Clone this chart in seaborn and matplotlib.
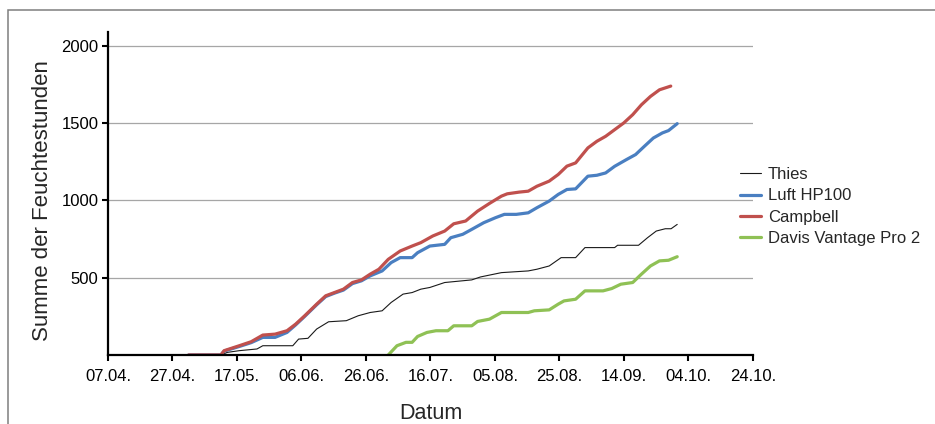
import numpy as np
import pandas as pd
import matplotlib
matplotlib.use("Agg")
import matplotlib.pyplot as plt
import matplotlib.dates as mdates
from matplotlib.patches import Rectangle
import seaborn as sns

# ---- data (days after 07.04., cumulative hours) ----
start_date = "2011-04-07"
tick_labels_dates = pd.date_range(start_date, periods=11, freq="20D")

thies_day = [35, 37, 40.7, 46.2, 48, 57.3, 59.1, 62, 64.7, 68.4,
             73.9, 77.6, 81.3, 85, 87.8, 91.5, 94.3, 97, 99.8, 104.4,
             112.8, 115.5, 122, 130.3, 133, 136.8, 140.5, 145, 147.9, 157.1,
             158, 164.5, 167.3, 170, 172.8, 174.6, 176.5]
thies_val = [0, 17, 28, 39, 60, 60, 103, 108, 168, 215,
             222, 254, 275, 286, 340, 394, 404, 426, 437, 469,
             486, 505, 533, 544, 555, 576, 630, 630, 695, 695,
             710, 710, 759, 802, 817, 817, 845]

luft_day = [25, 35, 36, 40.7, 44.4, 48, 51.8, 55.5, 58.2, 61,
            64.7, 67.5, 70.2, 73, 75.8, 78.6, 81.3, 85, 87.8, 90.6,
            94.3, 96, 99.8, 104.4, 106.3, 110, 112.8, 116.5, 120.1, 122.9,
            126.6, 130.3, 133, 136.8, 139.6, 142.3, 145, 148.8, 151.6, 154.3,
            157.1, 160.8, 163.6, 166.3, 169.1, 171.9, 173.8, 176.5]
luft_val = [0, 0, 25, 55, 80, 114, 114, 146, 195, 250,
            325, 378, 400, 420, 462, 480, 512, 544, 598, 630,
            630, 662, 705, 716, 759, 781, 813, 856, 888, 910,
            910, 920, 953, 996, 1039, 1071, 1075, 1157, 1163, 1178,
            1221, 1265, 1297, 1350, 1404, 1437, 1452, 1497]

campbell_day = [25, 35, 36, 40.7, 44.4, 48, 51.8, 55.5, 58.2, 61,
                64.7, 67.5, 70.2, 73, 75.8, 78.6, 81.3, 84, 86.9, 90.6,
                94.3, 97, 100.7, 104.4, 107.2, 110.9, 114.6, 118.3, 122, 123.8,
                127.5, 130.3, 133, 136.8, 139.6, 142.3, 145, 148.8, 151.6, 154.3,
                157.1, 159.9, 162.7, 165.4, 168.2, 171, 174.5]
campbell_val = [0, 0, 28, 60, 86, 129, 135, 157, 200, 254,
                329, 383, 404, 426, 469, 486, 523, 555, 619, 673,
                705, 727, 770, 802, 849, 867, 931, 981, 1028, 1043,
                1054, 1060, 1092, 1125, 1168, 1222, 1243, 1340, 1383, 1415,
                1458, 1501, 1555, 1619, 1673, 1716, 1740]

davis_day = [86.9, 89.6, 92.4, 94.3, 96, 98.9, 101.7, 105.4, 107.2, 112.8,
             114.6, 118.3, 122, 130.3, 132.2, 136.8, 139.6, 141.4, 145, 147.9,
             153.5, 156.2, 159, 162.7, 165.4, 168.2, 171, 173.8, 176.5]
davis_val = [0, 60, 82, 82, 120, 146, 157, 157, 189, 189,
             217, 232, 275, 275, 286, 292, 329, 350, 361, 415,
             415, 430, 458, 469, 523, 576, 609, 613, 636]

series_names = ["Thies", "Luft HP100", "Campbell", "Davis Vantage Pro 2"]
series_days = [thies_day, luft_day, campbell_day, davis_day]
series_vals = [thies_val, luft_val, campbell_val, davis_val]
colors = ["#1a1a1a", "#4a7fc1", "#c0504d", "#8fc155"]
widths = [0.8, 2.3, 2.3, 2.3]

# ---- figure ----
sns.set_theme(style="white")
plt.rcParams["font.family"] = ["Liberation Sans", "DejaVu Sans"]

W, H = 935, 424
fig = plt.figure(figsize=(W / 100, H / 100), dpi=100)
fig.patch.set_facecolor("white")
ax = fig.add_axes([108 / W, (H - 355) / H, 645 / W, 323 / H])

t0 = pd.Timestamp(start_date)
for name, d, v, c, lw in zip(series_names, series_days, series_vals, colors, widths):
    df = pd.DataFrame({"Datum": t0 + pd.to_timedelta(d, unit="D"), "Wert": v})
    sns.lineplot(data=df, x="Datum", y="Wert", ax=ax, color=c, lw=lw,
                 label=name, estimator=None, sort=False, legend=False)

ax.set_xlim(tick_labels_dates[0], tick_labels_dates[-1])
ax.set_ylim(0, 2090)
ax.set_xticks(tick_labels_dates)
ax.xaxis.set_major_formatter(mdates.DateFormatter("%d.%m."))
ax.set_yticks([500, 1000, 1500, 2000])

ax.grid(axis="y", color="#a6a6a6", lw=0.9)
ax.grid(axis="x", visible=False)
ax.set_axisbelow(True)
for s in ["top", "right"]:
    ax.spines[s].set_visible(False)
for s in ["left", "bottom"]:
    ax.spines[s].set_color("black")
    ax.spines[s].set_linewidth(1.6)
ax.tick_params(axis="both", direction="out", length=4, width=1.5,
               colors="black", labelsize=12, left=True, bottom=True)
ax.tick_params(axis="x", pad=6)
ax.tick_params(axis="y", pad=3)

ax.set_xlabel("Datum", fontsize=15.5, labelpad=14)
ax.set_ylabel("Summe der Feuchtestunden", fontsize=16, va="center")
ax.yaxis.set_label_coords((43 - 108) / 645, (355 - 201) / 323)

handles, labels = ax.get_legend_handles_labels()
fig.legend(handles, labels, loc="upper left",
           bbox_to_anchor=(740 / W, 1 - 167 / H), frameon=False, fontsize=12,
           handlelength=1.26, handletextpad=0.42, labelspacing=0.38,
           borderpad=0, borderaxespad=0)

fig.add_artist(Rectangle((8 / W, -0.1), 1.2, (H - 10.5) / H + 0.1,
                         transform=fig.transFigure, fill=False,
                         edgecolor="#7f7f7f", lw=1.1))

fig.savefig("out.png", dpi=100)
